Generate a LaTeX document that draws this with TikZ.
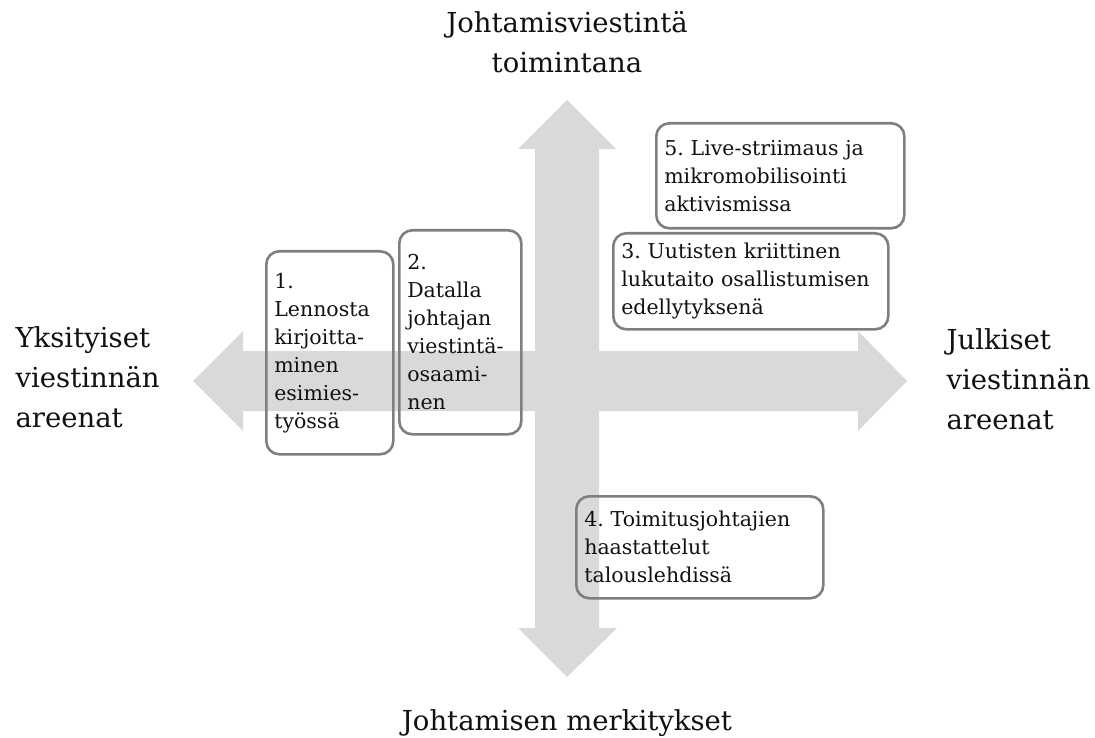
\documentclass[tikz,border=0pt]{standalone}
\usepackage{fontspec}
\setmainfont{DejaVu Serif}
\usepackage{xcolor}
\definecolor{axisfill}{HTML}{D9D9D9}
\definecolor{frame}{HTML}{7F7F7F}
\definecolor{ink}{HTML}{111111}
\usetikzlibrary{positioning}
\frenchspacing
\tikzset{
  axisarrow/.style={fill=axisfill,draw=none},
  theme/.style={draw=frame,line width=2.6pt,rounded corners=13pt,anchor=north west,
    align=left,inner xsep=8pt,inner ysep=0pt,text=ink,font=\fontsize{20.5}{28}\selectfont},
  pole/.style={text=ink,font=\fontsize{27.5}{40}\selectfont},
}

\begin{document}
\begin{tikzpicture}[x=1pt,y=-1pt]
\useasboundingbox (0,0) rectangle (1095,738);
\fill[axisarrow] (193,381) -- (243,331) -- (243,351) -- (858,351) -- (858,331) -- (907,381)
  -- (858,431) -- (858,411) -- (243,411) -- (243,431) -- cycle;
\fill[axisarrow] (567,100) -- (616,149) -- (599,149) -- (599,628) -- (617,628) -- (567,677)
  -- (518,628) -- (535,628) -- (535,149) -- (518,149) -- cycle;
\node[pole,align=center,anchor=base] (action) at (567,73) {Johtamisviestintä\\toimintana};
\node[pole,anchor=base] (meaning) at (567,730) {Johtamisen merkitykset};
\node[pole,align=left,anchor=base west] (private) at (12,427) {Yksityiset\\viestinnän\\areenat};
\node[pole,align=left,anchor=base west] (public) at (943,429) {Julkiset\\viestinnän\\areenat};
\node[theme,minimum width=127pt,minimum height=203pt,text width=111pt] (t1) at (265,250)
  {1.\\Lennosta\\kirjoitta-\\minen\\esimies-\\työssä};
\node[theme,minimum width=122pt,minimum height=204pt,text width=106pt] (t2) at (398,229)
  {2.\\Datalla\\johtajan\\viestintä-\\osaami-\\nen};
\node[theme,minimum width=248pt,minimum height=105pt,text width=232pt] (t5) at (655,122)
  {5. Live-striimaus ja\\mikromobilisointi\\aktivismissa};
\node[theme,minimum width=275pt,minimum height=96pt,text width=259pt] (t3) at (612,232)
  {3. Uutisten kriittinen\\lukutaito osallistumisen\\edellytyksenä};
\node[theme,minimum width=247pt,minimum height=102pt,text width=231pt] (t4) at (575,495)
  {4. Toimitusjohtajien\\haastattelut\\talouslehdissä};
\end{tikzpicture}
\end{document}
